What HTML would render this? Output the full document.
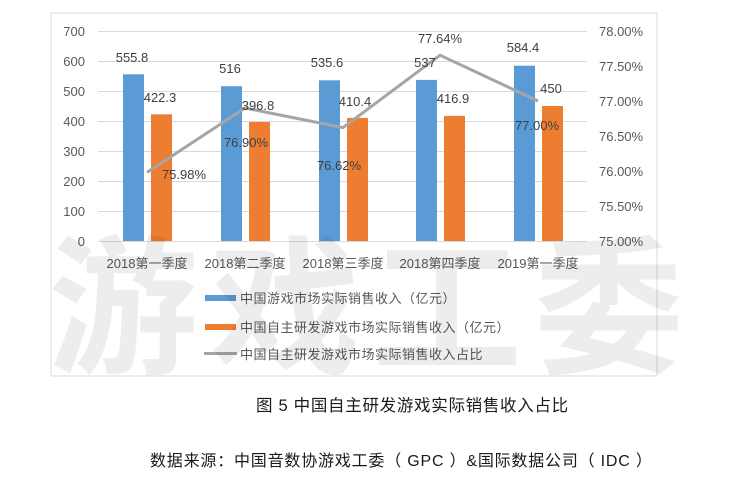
<!DOCTYPE html>
<html><head><meta charset="utf-8"><style>
body{margin:0;background:#fff;width:753px;height:494px;overflow:hidden}
text{font-family:"Liberation Sans","Noto Sans CJK SC",sans-serif}
</style></head><body>
<svg width="753" height="494" viewBox="0 0 753 494" xmlns="http://www.w3.org/2000/svg">
<rect x="51" y="13" width="606" height="363" fill="#fff" stroke="#d9d9d9" stroke-width="1"/>
<g stroke="#d9d9d9" stroke-width="1">
<line x1="98" x2="587" y1="31.5" y2="31.5"/><line x1="98" x2="587" y1="61.5" y2="61.5"/>
<line x1="98" x2="587" y1="91.5" y2="91.5"/><line x1="98" x2="587" y1="121.5" y2="121.5"/>
<line x1="98" x2="587" y1="151.5" y2="151.5"/><line x1="98" x2="587" y1="181.5" y2="181.5"/>
<line x1="98" x2="587" y1="211.5" y2="211.5"/><line x1="98" x2="587" y1="241.5" y2="241.5"/>
</g>
<g font-size="13" fill="#595959" text-anchor="end">
<text x="85" y="36">700</text><text x="85" y="66">600</text><text x="85" y="96">500</text>
<text x="85" y="126">400</text><text x="85" y="156">300</text><text x="85" y="186">200</text>
<text x="85" y="216">100</text><text x="85" y="246">0</text>
</g>
<g font-size="13" fill="#595959">
<text x="599" y="36">78.00%</text><text x="599" y="71">77.50%</text><text x="599" y="106">77.00%</text>
<text x="599" y="141">76.50%</text><text x="599" y="176">76.00%</text><text x="599" y="211">75.50%</text>
<text x="599" y="246">75.00%</text>
</g>
<g fill="#5b9bd5">
<rect x="123" y="74.3" width="21" height="166.7"/>
<rect x="221" y="86.2" width="21" height="154.8"/>
<rect x="319" y="80.3" width="21" height="160.7"/>
<rect x="416" y="79.9" width="21" height="161.1"/>
<rect x="514" y="65.7" width="21" height="175.3"/>
</g>
<g fill="#ed7d31">
<rect x="151" y="114.3" width="21" height="126.7"/>
<rect x="249" y="122" width="21" height="119"/>
<rect x="347" y="117.9" width="21" height="123.1"/>
<rect x="444" y="115.9" width="21" height="125.1"/>
<rect x="542" y="106" width="21" height="135"/>
</g>
<polyline points="147,172.4 245,108 343,127.6 440,55.2 538,101" fill="none" stroke="#a5a5a5" stroke-width="3"/>
<g font-size="13" fill="#404040" text-anchor="middle">
<text x="132" y="62">555.8</text><text x="160" y="102">422.3</text>
<text x="230" y="73">516</text><text x="258" y="110">396.8</text>
<text x="327" y="67">535.6</text><text x="355" y="106">410.4</text>
<text x="425" y="67">537</text><text x="453" y="103">416.9</text>
<text x="523" y="52">584.4</text><text x="551" y="93">450</text>
<text x="184" y="179">75.98%</text><text x="246" y="147">76.90%</text>
<text x="339" y="170">76.62%</text><text x="440" y="43">77.64%</text>
<text x="537" y="130">77.00%</text>
</g>
<g font-size="13" fill="#595959">
<text x="147" y="268" text-anchor="middle">2018第一季度</text><text x="245" y="268" text-anchor="middle">2018第二季度</text>
<text x="343" y="268" text-anchor="middle">2018第三季度</text><text x="440" y="268" text-anchor="middle">2018第四季度</text>
<text x="538" y="268" text-anchor="middle">2019第一季度</text>
</g>
<rect x="205" y="295" width="31" height="6" fill="#5b9bd5"/>
<rect x="205" y="324" width="31" height="6" fill="#ed7d31"/>
<line x1="204" x2="237" y1="353.5" y2="353.5" stroke="#a5a5a5" stroke-width="3"/>
<g font-size="13" fill="#595959" letter-spacing="0.5">
<text x="240" y="303">中国游戏市场实际销售收入（亿元）</text>
<text x="240" y="332">中国自主研发游戏市场实际销售收入（亿元）</text>
<text x="240" y="359">中国自主研发游戏市场实际销售收入占比</text>
</g>
<text x="372" y="362" font-size="150" font-weight="bold" fill="rgba(0,0,0,0.07)" text-anchor="middle" letter-spacing="12" font-family="Noto Sans CJK SC,sans-serif">游戏工委</text>
<text x="256" y="411" font-size="16.5" fill="#1a1a1a" letter-spacing="0.7">图 5  中国自主研发游戏实际销售收入占比</text>
<text x="150" y="466" font-size="16" fill="#1a1a1a" letter-spacing="0.8">数据来源：中国音数协游戏工委（ GPC ）&amp;国际数据公司（ IDC ）</text>
</svg>
</body></html>
